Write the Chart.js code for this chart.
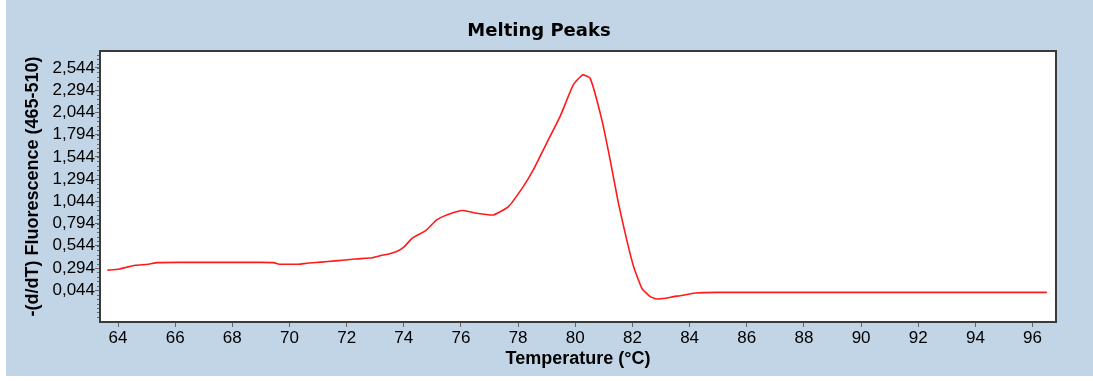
<!DOCTYPE html>
<html>
<head>
<meta charset="utf-8">
<script src="https://cdn.jsdelivr.net/npm/chart.js@4.4.1/dist/chart.umd.min.js"></script>
<style>
  html, body { margin: 0; padding: 0; background: #ffffff; }
  #panel { position: absolute; left: 6px; top: 0; width: 1087px; height: 376px; background: #c2d5e6; }
</style>
</head>
<body>
<div id="panel"><canvas id="grafica"></canvas></div>
<script>
// Temperatura (°C) y valores -(d/dT)
const temps = [63.63, 64.05, 64.3, 64.6, 65.06, 65.37, 66.2, 67.0, 68.0, 69.0, 69.45, 69.6, 70.0, 70.4,
               70.6, 71.1, 71.6, 72.3, 72.9, 73.2, 73.5, 73.75, 74.0, 74.3, 74.75, 75.15, 75.5, 75.97,
               76.15, 76.55, 77.13, 77.66, 78.18, 78.53, 79.0, 79.47, 79.93, 80.25, 80.52, 80.93, 81.22,
               81.51, 81.8, 82.04, 82.33, 82.62, 82.85, 83.15, 83.44, 83.67, 84.2, 85.0, 90.0, 96.5];
const valores = [0.27, 0.284, 0.303, 0.325, 0.336, 0.355, 0.358, 0.358, 0.358, 0.358, 0.355, 0.34, 0.336, 0.338,
                 0.348, 0.36, 0.374, 0.396, 0.41, 0.435, 0.455, 0.48, 0.53, 0.63, 0.711, 0.835, 0.891, 0.939,
                 0.939, 0.91, 0.891, 0.985, 1.21, 1.397, 1.70, 2.0, 2.353, 2.466, 2.43, 1.96, 1.51,
                 1.023, 0.61, 0.31, 0.066, -0.028, -0.054, -0.046, -0.028, -0.017, 0.014, 0.02, 0.02, 0.02];

// Marcas de los ejes
const xTicks = [64, 66, 68, 70, 72, 74, 76, 78, 80, 82, 84, 86, 88, 90, 92, 94, 96];
const yTicks = [0.044, 0.294, 0.544, 0.794, 1.044, 1.294, 1.544, 1.794, 2.044, 2.294, 2.544];
const yMinorStep = 0.05;

const fuente = "'Liberation Sans', Arial, sans-serif";

// Fondo blanco, marco y marcas menores del eje Y
const marcoPlugin = {
    id: 'marco',
    beforeDraw(chart) {
        const { ctx, chartArea: a } = chart;
        ctx.save();
        ctx.fillStyle = '#ffffff';
        ctx.fillRect(a.left, a.top, a.right - a.left, a.bottom - a.top);
        ctx.restore();
    },
    afterDraw(chart) {
        const { ctx, chartArea: a, scales } = chart;
        const y = scales.y;
        ctx.save();
        ctx.strokeStyle = '#666666';
        ctx.lineWidth = 1;
        ctx.beginPath();
        for (let v = yTicks[0] - 6 * yMinorStep; v <= y.max; v += yMinorStep) {
            if (v < y.min) continue;
            const py = Math.round(y.getPixelForValue(v)) + 0.5;
            ctx.moveTo(a.left - 3, py);
            ctx.lineTo(a.left, py);
        }
        ctx.stroke();
        ctx.strokeStyle = '#3a3a3a';
        ctx.lineWidth = 2;
        ctx.strokeRect(a.left, a.top, a.right - a.left, a.bottom - a.top);
        ctx.restore();
    }
};

new Chart(document.getElementById('grafica'), {
    type: 'line',
    data: {
        datasets: [{
            data: temps.map((t, i) => ({ x: t, y: valores[i] })),
            borderColor: '#ff1a1a',
            borderWidth: 1.6,
            pointRadius: 0,
            fill: false,
            tension: 0.15
        }]
    },
    options: {
        responsive: true,
        maintainAspectRatio: false,
        animation: false,
        layout: { padding: { left: 16, right: 37, top: 0, bottom: 6 } },
        plugins: {
            legend: { display: false },
            tooltip: { enabled: false },
            title: {
                display: true,
                text: 'Melting Peaks',
                color: '#000000',
                font: { family: "'DejaVu Sans', sans-serif", size: 18, weight: 'bold', lineHeight: 1.2 },
                padding: { top: 21, bottom: 8.4 }
            }
        },
        scales: {
            x: {
                type: 'linear',
                min: 63.37,
                max: 96.82,
                afterBuildTicks: s => { s.ticks = xTicks.map(v => ({ value: v })); },
                afterFit: s => { s.height = 48; },
                grid: { drawOnChartArea: false, tickLength: 5, color: '#666666' },
                border: { display: false },
                ticks: {
                    color: '#000000',
                    padding: 1,
                    maxRotation: 0,
                    autoSkip: false,
                    font: { family: fuente, size: 17 }
                },
                title: {
                    display: true,
                    text: 'Temperature (°C)',
                    color: '#000000',
                    padding: 0,
                    font: { family: fuente, size: 18, weight: 'bold', lineHeight: 1.2 }
                }
            },
            y: {
                min: -0.313,
                max: 2.735,
                afterBuildTicks: s => { s.ticks = yTicks.map(v => ({ value: v })); },
                afterFit: s => { s.width = 78; },
                grid: { drawOnChartArea: false, tickLength: 5, color: '#666666' },
                border: { display: false },
                ticks: {
                    color: '#000000',
                    padding: 0,
                    autoSkip: false,
                    font: { family: fuente, size: 17 },
                    callback: v => v.toFixed(3).replace('.', ',')
                },
                title: {
                    display: true,
                    text: '-(d/dT) Fluorescence (465-510)',
                    color: '#000000',
                    padding: 0,
                    font: { family: fuente, size: 18, weight: 'bold', lineHeight: 1.2 }
                }
            }
        }
    },
    plugins: [marcoPlugin]
});
</script>
</body>
</html>
